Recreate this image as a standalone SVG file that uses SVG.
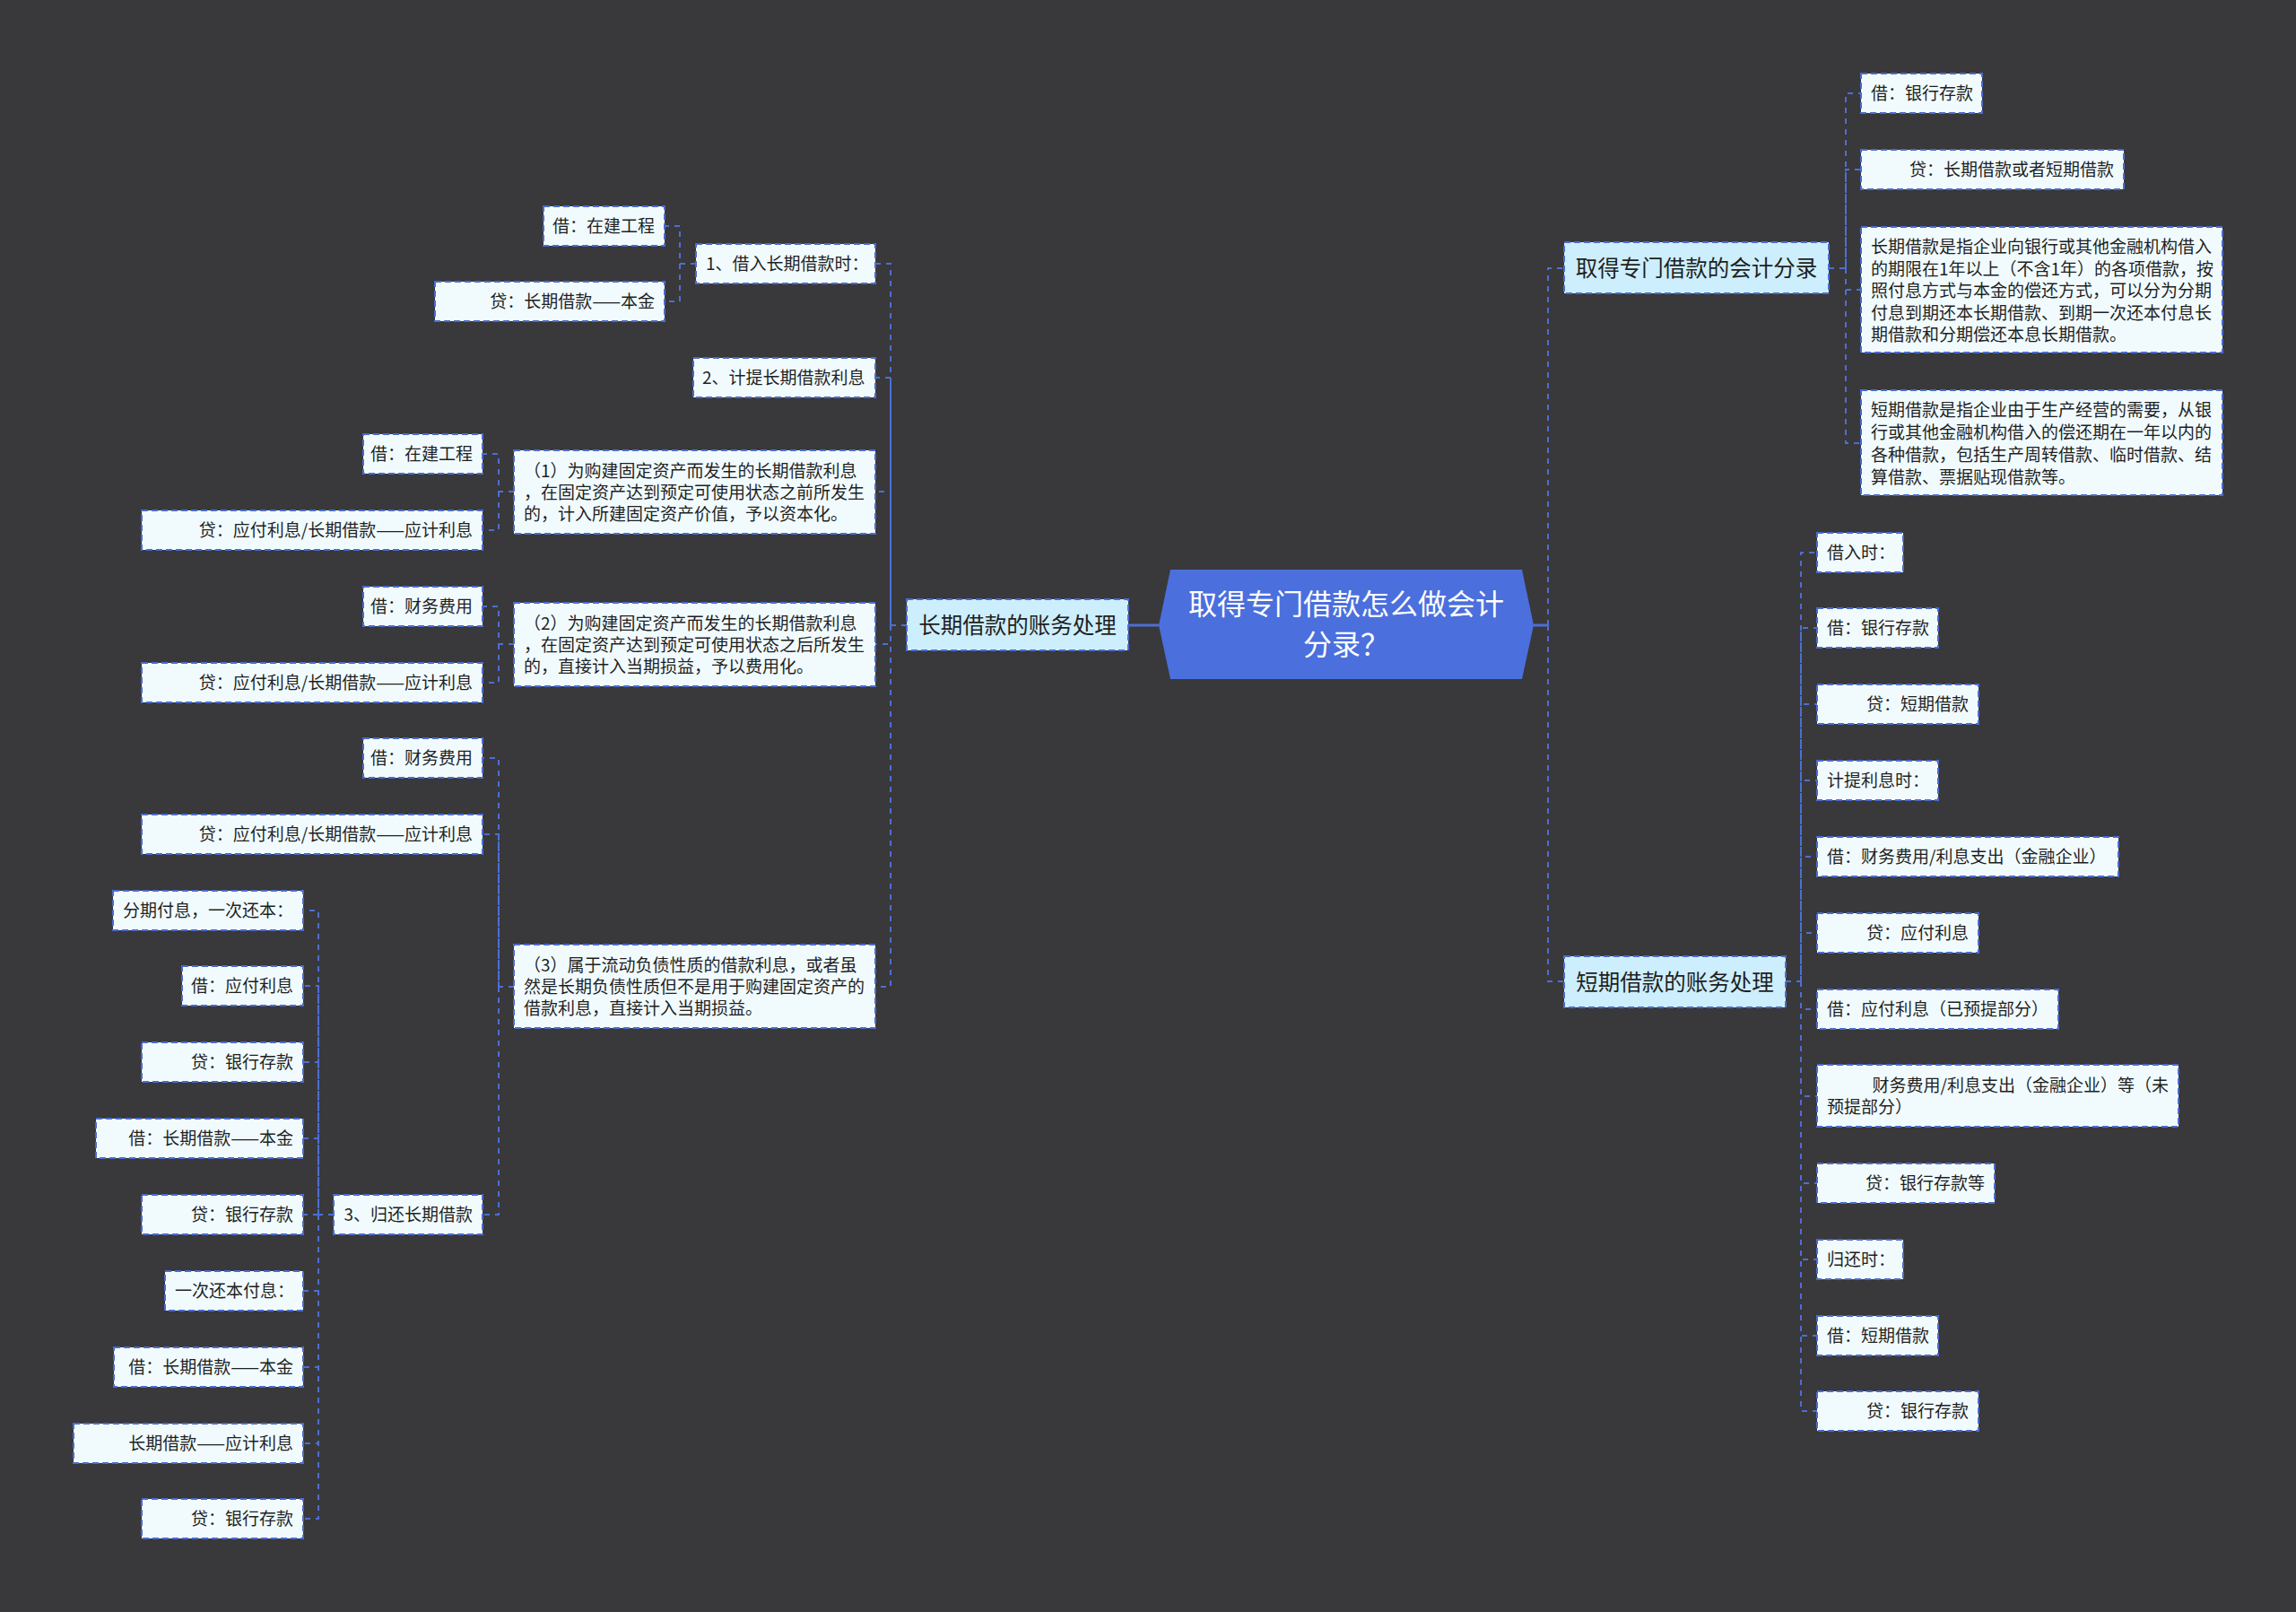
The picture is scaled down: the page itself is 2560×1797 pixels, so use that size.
<svg xmlns="http://www.w3.org/2000/svg" width="2560" height="1797" viewBox="0 0 2560 1797">
<style>
text{font-family:"Noto Sans CJK SC","Noto Sans",sans-serif;fill:#1f1f1f}
.leaf rect{fill:#f1fbfe;stroke:#4a6cd0;stroke-width:2;stroke-dasharray:7 4}
.hub rect{fill:#cdeefc;stroke:#4a6cd0;stroke-width:2;stroke-dasharray:7 4}
.leaf text{font-size:19px}
.hub text{font-size:24.5px;text-anchor:middle}
.e{text-anchor:end}
.conn path{fill:none;stroke:#4d6fd3;stroke-width:2;stroke-dasharray:6 6}
.conn path.solid{stroke-dasharray:none;stroke-width:3}
</style>
<rect x="0" y="0" width="2560" height="1797" fill="#39383b"/>

<g class="conn" id="connectors">
<path class="solid" d="M1292,697 H1258"/>
<path class="solid" d="M1710,697 H1726"/>
<path d="M1726,697 V299 H1744"/>
<path d="M1726,697 V1094 H1744"/>
<path d="M1011,697 H993 V294 H976"/>
<path d="M993,697 V421 H976"/>
<path d="M993,697 V548 H976"/>
<path d="M993,697 V718 H976"/>
<path d="M993,697 V1100 H976"/>
<path d="M776,294 H758 V252 H741"/>
<path d="M758,294 V336 H741"/>
<path d="M573,548 H556 V506 H538"/>
<path d="M556,548 V591 H538"/>
<path d="M573,718 H556 V676 H538"/>
<path d="M556,718 V761 H538"/>
<path d="M573,1100 H556 V845 H538"/>
<path d="M556,1100 V930 H538"/>
<path d="M556,1100 V1354 H538"/>
<path d="M372,1354 H355 V1015 H338"/>
<path d="M355,1354 V1099 H338"/>
<path d="M355,1354 V1184 H338"/>
<path d="M355,1354 V1269 H338"/>
<path d="M355,1354 H338"/>
<path d="M355,1354 V1439 H338"/>
<path d="M355,1354 V1524 H338"/>
<path d="M355,1354 V1609 H338"/>
<path d="M355,1354 V1693 H338"/>
<path d="M2039,299 H2058 V104 H2075"/>
<path d="M2058,299 V189 H2075"/>
<path d="M2058,299 V323 H2075"/>
<path d="M2058,299 V494 H2075"/>
<path d="M1991,1094 H2008 V616 H2026"/>
<path d="M2008,1094 V700 H2026"/>
<path d="M2008,1094 V785 H2026"/>
<path d="M2008,1094 V870 H2026"/>
<path d="M2008,1094 V955 H2026"/>
<path d="M2008,1094 V1040 H2026"/>
<path d="M2008,1094 V1125 H2026"/>
<path d="M2008,1094 V1222 H2026"/>
<path d="M2008,1094 V1319 H2026"/>
<path d="M2008,1094 V1404 H2026"/>
<path d="M2008,1094 V1489 H2026"/>
<path d="M2008,1094 V1573 H2026"/>
</g>

<g id="root">
<polygon points="1292,697 1305,635 1697,635 1710,697 1697,757 1305,757" fill="#4b6fdd"/>
<text x="1501" y="685" font-size="32" text-anchor="middle" style="fill:#ffffff">取得专门借款怎么做会计</text>
<text x="1501" y="730" font-size="32" text-anchor="middle" style="fill:#ffffff">分录？</text>
</g>

<g id="hub-long" class="hub"><rect x="1011" y="668" width="247" height="57"/><text x="1134.5" y="706">长期借款的账务处理</text></g>
<g id="hub-entry" class="hub"><rect x="1744" y="270" width="295" height="57"/><text x="1891.5" y="307.5">取得专门借款的会计分录</text></g>
<g id="hub-short" class="hub"><rect x="1744" y="1066" width="247" height="57"/><text x="1867.5" y="1104">短期借款的账务处理</text></g>

<g id="l-borrow" class="leaf"><rect x="776" y="272" width="200" height="44"/><text x="787" y="301">1、借入长期借款时：</text></g>
<g id="l-accrue" class="leaf"><rect x="773" y="399" width="203" height="44"/><text x="783" y="428">2、计提长期借款利息</text></g>
<g id="l-p1" class="leaf"><rect x="573" y="502" width="403" height="93"/>
<text x="584" y="532">（1）为购建固定资产而发生的长期借款利息</text>
<text x="584" y="556">，在固定资产达到预定可使用状态之前所发生</text>
<text x="584" y="580">的，计入所建固定资产价值，予以资本化。</text></g>
<g id="l-p2" class="leaf"><rect x="573" y="672" width="403" height="93"/>
<text x="584" y="702">（2）为购建固定资产而发生的长期借款利息</text>
<text x="584" y="726">，在固定资产达到预定可使用状态之后所发生</text>
<text x="584" y="750">的，直接计入当期损益，予以费用化。</text></g>
<g id="l-p3" class="leaf"><rect x="573" y="1053" width="403" height="93"/>
<text x="584" y="1083">（3）属于流动负债性质的借款利息，或者虽</text>
<text x="584" y="1107">然是长期负债性质但不是用于购建固定资产的</text>
<text x="584" y="1131">借款利息，直接计入当期损益。</text></g>

<g id="l-borrow-dr" class="leaf"><rect x="606" y="230" width="135" height="44"/><text class="e" x="730" y="259">借：在建工程</text></g>
<g id="l-borrow-cr" class="leaf"><rect x="485" y="314" width="256" height="44"/><text class="e" x="730" y="343">贷：长期借款——本金</text></g>
<g id="l-p1-dr" class="leaf"><rect x="405" y="484" width="133" height="44"/><text class="e" x="527" y="513">借：在建工程</text></g>
<g id="l-p1-cr" class="leaf"><rect x="158" y="569" width="380" height="44"/><text class="e" x="527" y="598">贷：应付利息/长期借款——应计利息</text></g>
<g id="l-p2-dr" class="leaf"><rect x="405" y="654" width="133" height="44"/><text class="e" x="527" y="683">借：财务费用</text></g>
<g id="l-p2-cr" class="leaf"><rect x="158" y="739" width="380" height="44"/><text class="e" x="527" y="768">贷：应付利息/长期借款——应计利息</text></g>
<g id="l-p3-dr" class="leaf"><rect x="405" y="823" width="133" height="44"/><text class="e" x="527" y="852">借：财务费用</text></g>
<g id="l-p3-cr" class="leaf"><rect x="158" y="908" width="380" height="44"/><text class="e" x="527" y="937">贷：应付利息/长期借款——应计利息</text></g>
<g id="l-repay" class="leaf"><rect x="372" y="1332" width="166" height="44"/><text class="e" x="527" y="1361">3、归还长期借款</text></g>
<g id="r1" class="leaf"><rect x="126" y="993" width="212" height="44"/><text x="137" y="1022">分期付息，一次还本：</text></g>
<g id="r2" class="leaf"><rect x="203" y="1077" width="135" height="44"/><text class="e" x="327" y="1106">借：应付利息</text></g>
<g id="r3" class="leaf"><rect x="158" y="1162" width="180" height="44"/><text class="e" x="327" y="1191">贷：银行存款</text></g>
<g id="r4" class="leaf"><rect x="107" y="1247" width="231" height="44"/><text class="e" x="327" y="1276">借：长期借款——本金</text></g>
<g id="r5" class="leaf"><rect x="158" y="1332" width="180" height="44"/><text class="e" x="327" y="1361">贷：银行存款</text></g>
<g id="r6" class="leaf"><rect x="184" y="1417" width="154" height="44"/><text x="195" y="1446">一次还本付息：</text></g>
<g id="r7" class="leaf"><rect x="127" y="1502" width="211" height="44"/><text class="e" x="327" y="1531">借：长期借款——本金</text></g>
<g id="r8" class="leaf"><rect x="82" y="1587" width="256" height="44"/><text class="e" x="327" y="1616">长期借款——应计利息</text></g>
<g id="r9" class="leaf"><rect x="158" y="1671" width="180" height="44"/><text class="e" x="327" y="1700">贷：银行存款</text></g>

<g id="e1" class="leaf"><rect x="2075" y="82" width="135" height="44"/><text x="2086" y="111">借：银行存款</text></g>
<g id="e2" class="leaf"><rect x="2075" y="167" width="293" height="44"/><text class="e" x="2357" y="196">贷：长期借款或者短期借款</text></g>
<g id="e3" class="leaf"><rect x="2075" y="253" width="403" height="140"/>
<text x="2086" y="282">长期借款是指企业向银行或其他金融机构借入</text>
<text x="2086" y="306.5">的期限在1年以上（不含1年）的各项借款，按</text>
<text x="2086" y="331">照付息方式与本金的偿还方式，可以分为分期</text>
<text x="2086" y="355.5">付息到期还本长期借款、到期一次还本付息长</text>
<text x="2086" y="380">期借款和分期偿还本息长期借款。</text></g>
<g id="e4" class="leaf"><rect x="2075" y="435" width="403" height="117"/>
<text x="2086" y="464">短期借款是指企业由于生产经营的需要，从银</text>
<text x="2086" y="489">行或其他金融机构借入的偿还期在一年以内的</text>
<text x="2086" y="514">各种借款，包括生产周转借款、临时借款、结</text>
<text x="2086" y="539">算借款、票据贴现借款等。</text></g>

<g id="s1" class="leaf"><rect x="2026" y="594" width="96" height="44"/><text x="2037" y="623">借入时：</text></g>
<g id="s2" class="leaf"><rect x="2026" y="678" width="135" height="44"/><text x="2037" y="707">借：银行存款</text></g>
<g id="s3" class="leaf"><rect x="2026" y="763" width="180" height="44"/><text class="e" x="2195" y="792">贷：短期借款</text></g>
<g id="s4" class="leaf"><rect x="2026" y="848" width="135" height="44"/><text x="2037" y="877">计提利息时：</text></g>
<g id="s5" class="leaf"><rect x="2026" y="933" width="336" height="44"/><text x="2037" y="962">借：财务费用/利息支出（金融企业）</text></g>
<g id="s6" class="leaf"><rect x="2026" y="1018" width="180" height="44"/><text class="e" x="2195" y="1047">贷：应付利息</text></g>
<g id="s7" class="leaf"><rect x="2026" y="1103" width="269" height="44"/><text x="2037" y="1132">借：应付利息（已预提部分）</text></g>
<g id="s8" class="leaf"><rect x="2026" y="1187" width="403" height="69"/>
<text class="e" x="2418" y="1217">财务费用/利息支出（金融企业）等（未</text>
<text x="2037" y="1241">预提部分）</text></g>
<g id="s9" class="leaf"><rect x="2026" y="1297" width="198" height="44"/><text class="e" x="2213" y="1326">贷：银行存款等</text></g>
<g id="s10" class="leaf"><rect x="2026" y="1382" width="96" height="44"/><text x="2037" y="1411">归还时：</text></g>
<g id="s11" class="leaf"><rect x="2026" y="1467" width="135" height="44"/><text x="2037" y="1496">借：短期借款</text></g>
<g id="s12" class="leaf"><rect x="2026" y="1551" width="180" height="44"/><text class="e" x="2195" y="1580">贷：银行存款</text></g>
</svg>
